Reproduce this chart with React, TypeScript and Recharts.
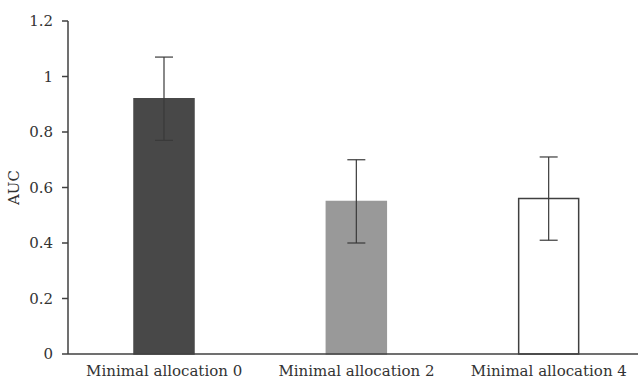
import React from 'react';
import { BarChart, Bar, XAxis, YAxis, Cell, ErrorBar } from 'recharts';

const categories = ['Minimal allocation 0', 'Minimal allocation 2', 'Minimal allocation 4'];
const aucValues = [0.92, 0.55, 0.56];
const aucErrors = [0.15, 0.15, 0.15];
const yTicks = [0, 0.2, 0.4, 0.6, 0.8, 1, 1.2];

const fills = ['#484848', '#999999', '#ffffff'];
const strokes = ['#484848', '#999999', '#404040'];

const data = categories.map((name, i) => ({ name, auc: aucValues[i], err: aucErrors[i] }));

const font = '"DejaVu Serif", "Liberation Serif", serif';

const App: React.FC = () => {
  return (
    <div style={{ position: 'fixed', left: 0, top: 0, width: 638, height: 385, overflow: 'hidden', background: '#fff' }}>
      <BarChart
        width={645}
        height={385}
        data={data}
        margin={{ top: 21, right: 0, bottom: 0, left: 0 }}
      >
        <XAxis
          dataKey="name"
          tickLine={false}
          axisLine={{ stroke: '#404040', strokeWidth: 1.5 }}
          tick={{ fill: '#333', fontSize: 15, fontFamily: font }}
          height={31}
          tickMargin={5}
          interval={0}
        />
        <YAxis
          domain={[0, 1.2]}
          ticks={yTicks}
          width={68}
          tickSize={6}
          axisLine={{ stroke: '#404040', strokeWidth: 1.5 }}
          tickLine={{ stroke: '#404040', strokeWidth: 1.5 }}
          tick={{ fill: '#333', fontSize: 15, fontFamily: font }}
          tickMargin={9}
          label={{
            value: 'AUC',
            angle: -90,
            position: 'insideLeft',
            offset: 14,
            style: { fill: '#333', fontSize: 15, fontFamily: font, textAnchor: 'middle' },
          }}
        />
        <Bar dataKey="auc" barSize={60} isAnimationActive={false}>
          {data.map((d, i) => (
            <Cell key={d.name} fill={fills[i]} stroke={strokes[i]} strokeWidth={1.5} />
          ))}
          <ErrorBar dataKey="err" width={9} stroke="#3a3a3a" strokeWidth={1.2} />
        </Bar>
      </BarChart>
    </div>
  );
};

export default App;
